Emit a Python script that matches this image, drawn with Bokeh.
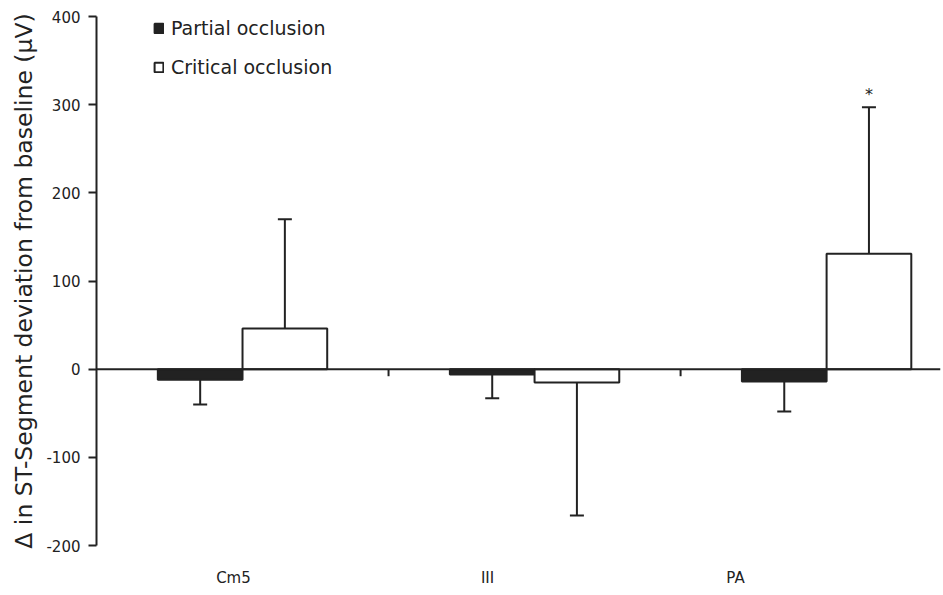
import numpy as np
from bokeh.plotting import figure
from bokeh.models import Range1d, FixedTicker, Span, Legend, LegendItem
from bokeh.core.properties import value
from bokeh.embed import file_html
from bokeh.resources import INLINE

# ---- data ----
categories = ["Cm5", "III", "PA"]
partial = [-12, -6, -14]
partial_err = [28, 27, 34]
critical = [46, -15, 131]
critical_err = [124, 151, 166]
significant = [False, False, True]
y_ticks = [-200, -100, 0, 100, 200, 300, 400]

# ---- layout constants ----
label_pos = [0.469, 1.339, 2.188]   # where the category labels sit (as in the original)
bw = 0.29
INK = "#222222"
FONT = "DejaVu Sans"

centers = np.arange(len(categories)) + 0.5
px = centers - bw / 2
cx = centers + bw / 2

p = figure(width=943, height=595, x_range=Range1d(0, 2.89), y_range=Range1d(-200, 400),
           output_backend="svg", toolbar_location=None,
           min_border_left=96, min_border_right=3, min_border_top=16, min_border_bottom=50)
p.outline_line_color = None
p.grid.visible = False
p.background_fill_color = "white"

r1 = p.vbar(x=px, top=partial, bottom=0, width=bw, fill_color=INK, line_color=INK, line_width=2)
r2 = p.vbar(x=cx, top=critical, bottom=0, width=bw, fill_color="white", line_color=INK, line_width=2)

# error bars (one-sided, pointing away from zero)
p_end = [v - e for v, e in zip(partial, partial_err)]
c_end = [v + np.sign(v) * e for v, e in zip(critical, critical_err)]
p.segment(x0=px, y0=partial, x1=px, y1=p_end, line_color=INK, line_width=2)
p.segment(x0=cx, y0=critical, x1=cx, y1=c_end, line_color=INK, line_width=2)
p.scatter(x=px, y=p_end, marker="dash", size=14, line_color=INK, line_width=2)
p.scatter(x=cx, y=c_end, marker="dash", size=14, line_color=INK, line_width=2)

# significance asterisk
sx = [x for x, s in zip(cx, significant) if s]
sy = [y + 4 for y, s in zip(c_end, significant) if s]
p.text(x=sx, y=sy, text=["*"] * len(sx), text_align="center", text_baseline="bottom",
       text_font=value(FONT), text_font_size="16px", text_color=INK)

# zero line and group separators
p.add_layout(Span(location=0, dimension="width", line_color=INK, line_width=2))
bounds = list(range(1, len(categories)))
p.segment(x0=bounds, y0=[0] * len(bounds), x1=bounds, y1=[-8] * len(bounds),
          line_color=INK, line_width=2)

# y axis
ya = p.yaxis[0]
ya.ticker = FixedTicker(ticks=y_ticks)
ya.major_label_overrides = {t: str(t) for t in y_ticks}
ya.minor_tick_line_color = None
ya.major_tick_in = 0
ya.major_tick_out = 8
ya.major_tick_line_width = 2
ya.major_tick_line_color = INK
ya.axis_line_width = 2
ya.axis_line_color = INK
ya.major_label_standoff = 8
ya.major_label_text_font = FONT
ya.major_label_text_font_size = "15px"
ya.major_label_text_color = INK
ya.axis_label = "Δ in ST-Segment deviation from baseline (μV)"
ya.axis_label_text_font = FONT
ya.axis_label_text_font_size = "23.5px"
ya.axis_label_text_font_style = "normal"
ya.axis_label_text_color = INK
ya.axis_label_standoff = 5

# x axis (labels only)
xa = p.xaxis[0]
xa.ticker = FixedTicker(ticks=label_pos)
xa.major_label_overrides = {pos: cat for pos, cat in zip(label_pos, categories)}
xa.axis_line_color = None
xa.major_tick_line_color = None
xa.minor_tick_line_color = None
xa.major_label_standoff = 17
xa.major_label_text_font = FONT
xa.major_label_text_font_size = "15px"
xa.major_label_text_color = INK

legend = Legend(items=[LegendItem(label="Partial occlusion", renderers=[r1]),
                       LegendItem(label="Critical occlusion", renderers=[r2])],
                location=(57, 467), padding=0, margin=0, border_line_color=None,
                background_fill_alpha=0, glyph_width=11, glyph_height=12,
                label_standoff=7, spacing=17, label_height=20,
                label_text_font=FONT, label_text_font_size="19px", label_text_color=INK)
p.add_layout(legend)

open("out.html", "w").write(file_html(p, INLINE))
